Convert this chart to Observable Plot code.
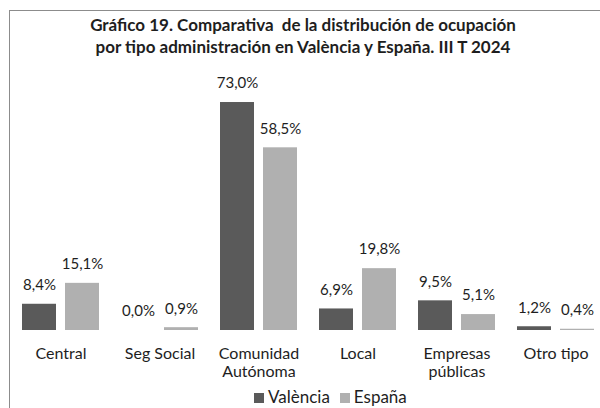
<!DOCTYPE html>
<html>
<head>
<meta charset="utf-8">
<script src="https://cdn.jsdelivr.net/npm/d3@7"></script>
<script src="https://cdn.jsdelivr.net/npm/@observablehq/plot@0.6"></script>
<style>
  html, body { margin: 0; padding: 0; background: #fff; }
  #wrap { position: relative; width: 600px; height: 408px; overflow: hidden; font-family: Lato, "Open Sans", sans-serif; }
  #frame { position: absolute; left: 9px; top: 10px; width: 620px; height: 420px; border: 1.5px solid #8c8c8c; box-sizing: border-box; }
  #title { position: absolute; left: 0; top: 14px; width: 606px; text-align: center; font-weight: bold; font-size: 17px; line-height: 22px; color: #1e1e1e; }
  #chart { position: absolute; left: 0; top: 0; }
  #legend { position: absolute; left: 254px; top: 387px; display: flex; align-items: center; font-size: 17px; line-height: 20px; color: #1e1e1e; }
  .sw { display: inline-block; width: 10px; height: 10px; margin-right: 4px; margin-top: 2px; }
  .item { display: inline-flex; align-items: center; margin-right: 10px; }
</style>
</head>
<body>
<div id="wrap">
  <div id="frame"></div>
  <div id="chart"></div>
  <div id="title">Gráfico 19. Comparativa&nbsp; de la distribución de ocupación<br>por tipo administración en València y España. III T 2024</div>
  <div id="legend"></div>
</div>
<script>
const categories = ["Central", "Seg Social", "Comunidad\nAutónoma", "Local", "Empresas\npúblicas", "Otro tipo"];
const series = ["València", "España"];
const valencia = [8.4, 0.0, 73.0, 6.9, 9.5, 1.2];
const espana = [15.1, 0.9, 58.5, 19.8, 5.1, 0.4];
const colors = ["#5a5a5a", "#b0b0b0"];

const valData = categories.map((c, i) => ({cat: c, value: valencia[i]}));
const espData = categories.map((c, i) => ({cat: c, value: espana[i]}));
const fmt = d => d.value.toFixed(1).replace(".", ",") + "%";

const chart = Plot.plot({
  width: 600,
  height: 408,
  marginLeft: 9,
  marginRight: 0,
  marginTop: 80,
  marginBottom: 78,
  style: {fontFamily: "Lato, 'Open Sans', sans-serif", background: "transparent", overflow: "hidden"},
  x: {domain: categories, range: [11, 605], padding: 0},
  y: {domain: [0, 80], range: [330, 80.16], axis: null},
  marks: [
    Plot.barY(valData, {x: "cat", y: "value", fill: colors[0], insetLeft: 11, insetRight: 54}),
    Plot.barY(espData, {x: "cat", y: "value", fill: colors[1], insetLeft: 54, insetRight: 11}),
    Plot.text(valData, {x: "cat", y: "value", text: fmt, dx: -21.5, dy: -19, fontSize: 15, fill: "#1e1e1e"}),
    Plot.text(espData, {x: "cat", y: "value", text: fmt, dx: 21.5, dy: -19, fontSize: 15, fill: "#1e1e1e"}),
    Plot.ruleY([0], {stroke: "#8c8c8c", strokeWidth: 1.5, x1: 9, x2: 600}),
    Plot.axisX({tickSize: 0, tickPadding: 15, fontSize: 16, lineHeight: 1.15, fill: "#1e1e1e", label: null})
  ]
});
document.getElementById("chart").appendChild(chart);

const legend = document.getElementById("legend");
series.forEach((s, i) => {
  const it = document.createElement("span");
  it.className = "item";
  const sw = document.createElement("span");
  sw.className = "sw";
  sw.style.background = colors[i];
  it.appendChild(sw);
  it.appendChild(document.createTextNode(s));
  legend.appendChild(it);
});
</script>
</body>
</html>
